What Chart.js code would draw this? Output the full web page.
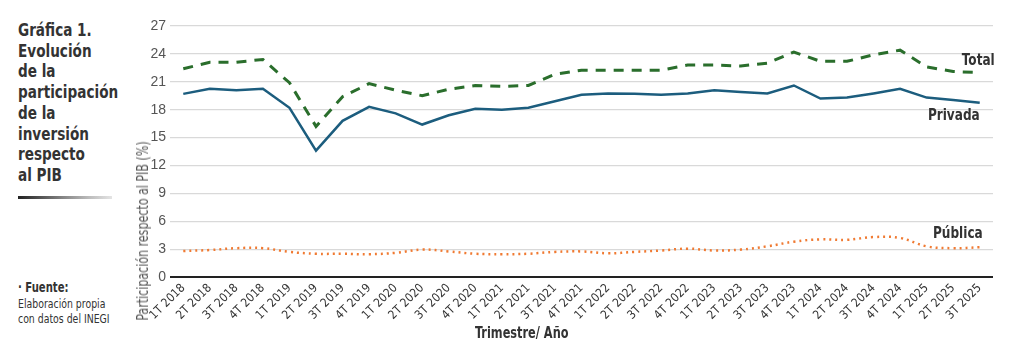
<!DOCTYPE html>
<html>
<head>
<meta charset="utf-8">
<script src="https://cdn.jsdelivr.net/npm/chart.js@4.4.0/dist/chart.umd.min.js"></script>
<style>
    body { margin: 0; background: #ffffff; width: 1024px; height: 349px; overflow: hidden; position: relative; font-family: "Liberation Sans Narrow", "DejaVu Sans Condensed", sans-serif; color: #333333; }
    .titulo { position: absolute; left: 18px; top: 20px; font-weight: bold; font-size: 18px; line-height: 20.7px; color: #333333;
              transform: scaleX(0.84); transform-origin: left top; white-space: nowrap; }
    .barra { position: absolute; left: 18px; top: 196px; width: 94px; height: 3px;
             background: linear-gradient(to right, #222222, #555555 25%, #8a8a8a 50%, #bbbbbb 75%, #e4e4e4); }
    .fuente { position: absolute; left: 18px; top: 280px; font-size: 13px; line-height: 15.5px; color: #333333;
              transform: scaleX(0.8); transform-origin: left top; white-space: nowrap; }
    .fuente b { font-size: 14px; }
    .ytitulo { position: absolute; left: 143px; top: 231px; transform: translate(-50%, -50%) rotate(-90deg) scaleX(0.82); white-space: nowrap; font-size: 15px; color: #555555; }
    .xtitulo { position: absolute; left: 475px; top: 324px; font-weight: bold; font-size: 15px; color: #333333;
               transform: scaleX(0.84); transform-origin: left top; white-space: nowrap; }
    .chart-box { position: absolute; left: 125px; top: 0; width: 899px; height: 349px; }
</style>
</head>
<body>
<div class="titulo">Gráfica 1.<br>Evolución<br>de la<br>participación<br>de la<br>inversión<br>respecto<br>al PIB</div>
<div class="barra"></div>
<div class="fuente"><b>· Fuente:</b><br>Elaboración propia<br>con datos del INEGI</div>
<div class="chart-box"><canvas id="invChart" width="899" height="349"></canvas></div>
<div class="ytitulo">Participación respecto al PIB (%)</div>
<div class="xtitulo">Trimestre/ Año</div>

<script>
var trimestres = ['1T 2018', '2T 2018', '3T 2018', '4T 2018', '1T 2019', '2T 2019', '3T 2019', '4T 2019',
    '1T 2020', '2T 2020', '3T 2020', '4T 2020', '1T 2021', '2T 2021', '3T 2021', '4T 2021',
    '1T 2022', '2T 2022', '3T 2022', '4T 2022', '1T 2023', '2T 2023', '3T 2023', '4T 2023',
    '1T 2024', '2T 2024', '3T 2024', '4T 2024', '1T 2025', '2T 2025', '3T 2025'];

var total = [22.4, 23.1, 23.1, 23.4, 20.9, 16.2, 19.4, 20.8, 20.1, 19.5, 20.2, 20.6, 20.5, 20.6, 21.8, 22.25,
    22.25, 22.25, 22.25, 22.8, 22.8, 22.7, 23.0, 24.2, 23.2, 23.2, 23.9, 24.4, 22.6, 22.1, 22.0];

var privada = [19.7, 20.25, 20.1, 20.25, 18.2, 13.6, 16.8, 18.3, 17.6, 16.4, 17.4, 18.1, 18.0, 18.2, 18.9, 19.6,
    19.75, 19.7, 19.6, 19.75, 20.1, 19.9, 19.75, 20.6, 19.2, 19.3, 19.75, 20.25, 19.3, 19.05, 18.75];

var publica = [2.8, 2.9, 3.1, 3.1, 2.7, 2.5, 2.5, 2.45, 2.6, 2.95, 2.75, 2.5, 2.45, 2.5, 2.7, 2.75,
    2.55, 2.7, 2.85, 3.05, 2.85, 2.95, 3.3, 3.8, 4.05, 4.0, 4.3, 4.2, 3.3, 3.1, 3.2];

var yTicks = [0, 3, 6, 9, 12, 15, 18, 21, 24, 27];

// series names drawn next to the last point of each line
var endLabels = {
    id: 'endLabels',
    afterDatasetsDraw(chart) {
        var ctx = chart.ctx;
        var offsets = [[15, -12], [0, 13], [3, -13]];
        chart.data.datasets.forEach((ds, i) => {
            var meta = chart.getDatasetMeta(i);
            var last = meta.data[meta.data.length - 1];
            ctx.save();
            ctx.translate(last.x + offsets[i][0], last.y + offsets[i][1]);
            ctx.scale(0.84, 1);
            ctx.font = 'bold 16px "Liberation Sans Narrow", "DejaVu Sans Condensed", sans-serif';
            ctx.fillStyle = '#333333';
            ctx.textAlign = 'right';
            ctx.textBaseline = 'middle';
            ctx.fillText(ds.label, 0, 0);
            ctx.restore();
        });
    }
};

var ctx = document.getElementById('invChart').getContext('2d');
var invChart = new Chart(ctx, {
    type: 'line',
    data: {
        labels: trimestres,
        datasets: [{
            label: 'Total',
            data: total,
            borderColor: '#2a6e2c',
            borderWidth: 3,
            borderDash: [10, 8],
            pointRadius: 0,
            tension: 0,
            fill: false
        },
        {
            label: 'Privada',
            data: privada,
            borderColor: '#1c5d7e',
            borderWidth: 2.5,
            pointRadius: 0,
            tension: 0,
            fill: false
        },
        {
            label: 'Pública',
            data: publica,
            borderColor: '#f07a32',
            borderWidth: 2.5,
            borderDash: [2, 4],
            pointRadius: 0,
            tension: 0.4,
            fill: false
        }]
    },
    options: {
        responsive: false,
        animation: false,
        layout: {
            padding: { top: 26, right: 31, left: 0, bottom: 0 }
        },
        plugins: {
            legend: { display: false },
            tooltip: { enabled: false }
        },
        scales: {
            x: {
                offset: true,
                grid: { display: false, drawTicks: false },
                border: { display: false },
                ticks: {
                    autoSkip: false,
                    maxRotation: 45,
                    minRotation: 45,
                    padding: 4,
                    color: '#333333',
                    font: { family: '"Liberation Sans Narrow", "DejaVu Sans Condensed", sans-serif', size: 12 }
                },
                afterFit: function (scale) { scale.height = 72; }
            },
            y: {
                min: 0,
                max: 27,
                afterBuildTicks: function (scale) {
                    scale.ticks = yTicks.map(v => ({ value: v }));
                },
                grid: {
                    color: ctx => ctx.tick.value === 0 ? '#222222' : '#d9d9d9',
                    lineWidth: ctx => ctx.tick.value === 0 ? 2 : 1.2,
                    drawTicks: false
                },
                border: { display: false },
                ticks: {
                    padding: 4,
                    color: '#555555',
                    font: { family: '"Liberation Sans", sans-serif', size: 14 }
                },
                afterFit: function (scale) { scale.width = 45; }
            }
        }
    },
    plugins: [endLabels]
});
</script>
</body>
</html>
